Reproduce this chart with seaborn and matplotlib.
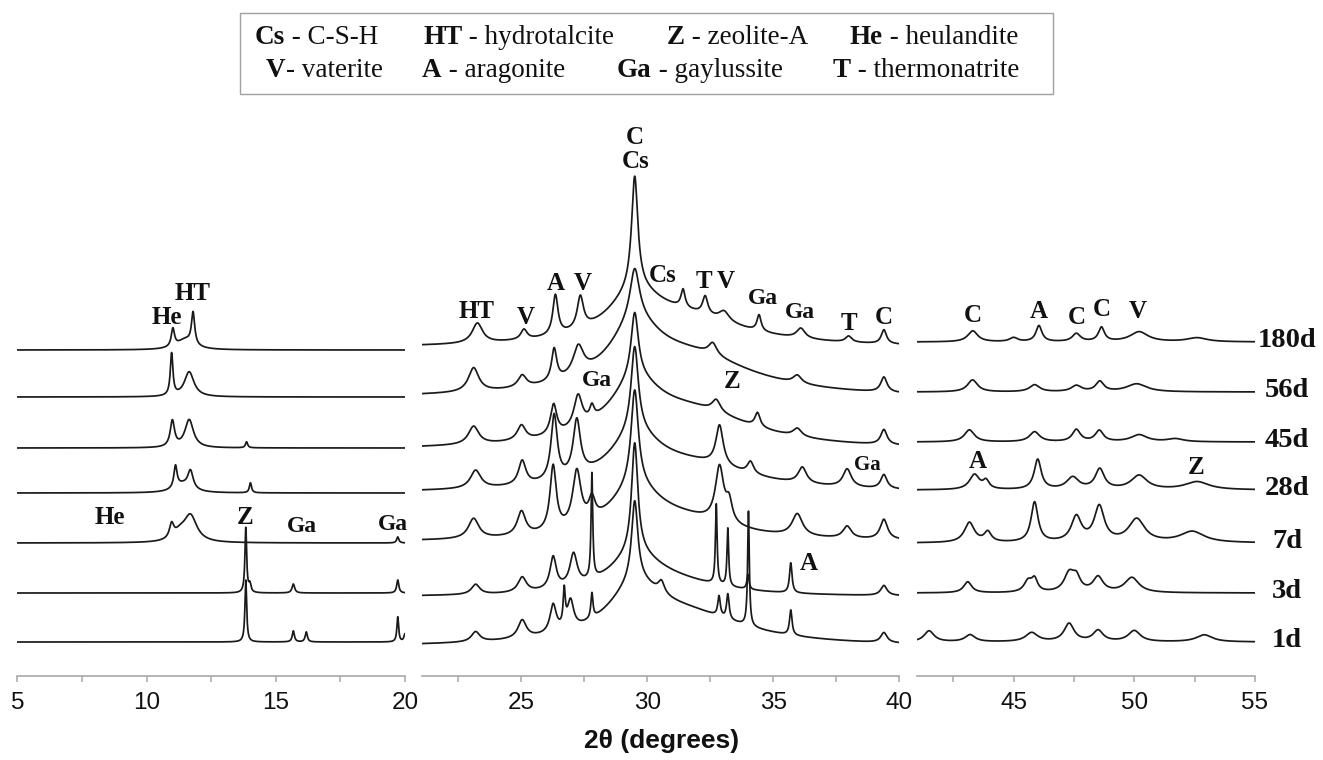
import numpy as np
import pandas as pd
import matplotlib
matplotlib.use("Agg")
import matplotlib.pyplot as plt
import seaborn as sns
from matplotlib.patches import Rectangle
from matplotlib.transforms import blended_transform_factory

# ---------------- data ----------------
SAMPLES = ["1d", "3d", "7d", "28d", "45d", "56d", "180d"]

# vertical offsets of each pattern (bottom to top), per panel
BASE_P1 = [0, 49, 99, 149, 194, 245, 292]
BASE_P2 = [-5, 45, 100, 149, 192, 244, 294]
BASE_P3 = [0, 49, 99, 152, 200, 250, 300]

# peaks: (2theta, height, fwhm)  -- panel 5-20 deg
P1_1D = [(13.84, 62, 0.08), (15.68, 11, 0.10), (16.18, 10, 0.10), (19.72, 25, 0.08), (20.0, 8, 0.10)]
P1_3D = [(13.84, 65, 0.08), (14.0, 8, 0.10), (15.68, 9, 0.12), (19.72, 13, 0.10)]
P1_7D = [(10.97, 14, 0.20), (11.7, 26, 0.60), (11.3, 8, 0.60), (19.72, 6, 0.10)]
P1_28D = [(11.12, 22, 0.15), (11.7, 18, 0.25), (11.4, 8, 0.80), (14.02, 10, 0.10)]
P1_45D = [(11.0, 26, 0.20), (11.65, 28, 0.40), (13.87, 6, 0.10)]
P1_56D = [(10.97, 42, 0.12), (11.65, 25, 0.45)]
P1_180D = [(11.02, 18, 0.15), (11.8, 32, 0.15), (11.5, 10, 0.80)]

# panel 21-40 deg (first two entries are the broad amorphous humps)
P2_1D = [(29.5, 45, 2.5), (31.5, 30, 6.0), (23.18, 10, 0.4), (25.03, 18, 0.4), (26.26, 28, 0.3),
         (26.7, 35, 0.1), (26.95, 28, 0.3), (27.8, 25, 0.1), (29.5, 80, 0.3), (30.56, 12, 0.3),
         (32.85, 20, 0.12), (33.2, 25, 0.12), (34.02, 115, 0.08), (35.7, 25, 0.12), (39.4, 10, 0.3)]
P2_3D = [(29.5, 35, 2.5), (31.0, 12, 5.0), (23.18, 10, 0.4), (25.03, 15, 0.4), (26.26, 32, 0.3),
         (27.07, 32, 0.35), (27.8, 105, 0.08), (29.5, 110, 0.3), (32.74, 80, 0.08), (33.2, 58, 0.08),
         (34.0, 15, 0.1), (35.7, 30, 0.12), (39.4, 10, 0.3)]
P2_7D = [(29.5, 45, 2.5), (31.5, 18, 5.0), (23.1, 20, 0.5), (25.0, 24, 0.4), (26.26, 65, 0.3),
         (27.2, 55, 0.4), (27.8, 20, 0.3), (29.5, 95, 0.35), (32.87, 55, 0.4), (33.25, 20, 0.3),
         (35.96, 22, 0.5), (37.94, 12, 0.4), (39.4, 20, 0.35)]
P2_28D = [(29.5, 45, 2.5), (31.8, 25, 6.0), (23.18, 18, 0.5), (25.03, 24, 0.35), (26.3, 65, 0.3),
          (27.2, 55, 0.35), (29.5, 85, 0.35), (32.87, 40, 0.35), (34.1, 12, 0.3), (36.16, 16, 0.4),
          (37.94, 18, 0.4), (39.4, 14, 0.3)]
P2_45D = [(29.5, 50, 2.5), (31.8, 35, 6.0), (23.1, 18, 0.5), (25.0, 15, 0.4), (26.28, 30, 0.3),
          (27.25, 32, 0.4), (27.8, 12, 0.2), (29.5, 65, 0.35), (32.74, 12, 0.4), (34.38, 14, 0.25),
          (35.96, 8, 0.4), (39.4, 15, 0.3)]
P2_56D = [(29.5, 55, 2.5), (31.8, 38, 6.0), (23.1, 24, 0.5), (25.03, 12, 0.4), (26.3, 32, 0.25),
          (27.26, 28, 0.5), (29.5, 50, 0.45), (32.6, 12, 0.4), (35.96, 8, 0.4), (39.4, 15, 0.3)]
P2_180D = [(29.5, 40, 2.5), (31.5, 28, 6.0), (23.25, 20, 0.5), (25.1, 10, 0.3), (26.35, 40, 0.25),
           (27.34, 32, 0.3), (29.5, 112, 0.3), (31.42, 18, 0.2), (32.3, 18, 0.25), (33.05, 10, 0.5),
           (34.44, 16, 0.2), (36.1, 10, 0.4), (38.0, 6, 0.3), (39.4, 14, 0.25)]

# panel 41-55 deg
P3_1D = [(41.5, 11, 0.5), (43.2, 7, 0.5), (45.75, 9, 0.6), (47.3, 18, 0.5), (48.5, 11, 0.5), (50.0, 11, 0.6), (52.9, 7, 0.8)]
P3_3D = [(43.1, 11, 0.4), (45.6, 11, 0.4), (45.87, 12, 0.3), (47.3, 18, 0.5), (47.6, 13, 0.4), (48.5, 15, 0.5), (49.9, 15, 0.7)]
P3_7D = [(43.17, 20, 0.5), (43.93, 10, 0.35), (45.87, 40, 0.35), (47.6, 25, 0.5), (48.55, 35, 0.5), (50.1, 23, 0.8), (52.4, 11, 1.2)]
P3_28D = [(43.38, 15, 0.5), (43.86, 8, 0.3), (46.0, 30, 0.35), (47.45, 12, 0.6), (48.57, 20, 0.45), (50.2, 14, 0.8), (52.6, 8, 1.2)]
P3_45D = [(43.17, 12, 0.5), (45.87, 10, 0.5), (47.6, 12, 0.4), (48.55, 11, 0.4), (50.2, 7, 0.8), (51.7, 3, 0.8)]
P3_56D = [(43.3, 12, 0.5), (45.87, 7, 0.5), (47.6, 6, 0.5), (48.57, 10, 0.4), (50.1, 8, 1.0)]
P3_180D = [(43.31, 11, 0.5), (45.0, 4, 0.4), (46.05, 16, 0.3), (47.6, 8, 0.4), (48.64, 14, 0.3), (50.2, 10, 0.9), (52.6, 4, 1.0)]

# phase labels: (text, 2theta, height on the stacked scale)
LAB_P1 = [("He", 10.79, 325), ("HT", 11.8, 349), ("He", 8.58, 124), ("Z", 13.8, 124),
          ("Ga", 16.0, 116), ("Ga", 19.52, 117)]
LAB_P2 = [("HT", 23.23, 330), ("V", 25.16, 325), ("A", 26.37, 359), ("V", 27.43, 358),
          ("C", 29.52, 505), ("Cs", 29.52, 480), ("Cs", 30.59, 366), ("T", 32.25, 361),
          ("V", 33.13, 360), ("Ga", 34.58, 344), ("Ga", 36.07, 330), ("T", 38.01, 318),
          ("C", 39.41, 325), ("Ga", 27.99, 262), ("Z", 33.36, 260), ("Ga", 38.73, 177),
          ("A", 36.43, 79)]
LAB_P3 = [("C", 43.31, 327), ("A", 46.05, 330), ("C", 47.63, 324), ("C", 48.64, 332),
          ("V", 50.16, 330), ("A", 43.52, 181), ("Z", 52.58, 175)]

LEGEND_ROW1 = [("Cs", " - C-S-H"), ("HT", " - hydrotalcite"), ("Z", " - zeolite-A"), ("He", " - heulandite")]
LEGEND_ROW2 = [("V", "- vaterite"), ("A", " - aragonite"), ("Ga", " - gaylussite"), ("T", " - thermonatrite")]

X_TICKS_P1 = [5, 10, 15, 20]
X_TICKS_P2 = [25, 30, 35, 40]
X_TICKS_P3 = [45, 50, 55]

# ---------------- build the patterns ----------------
def pattern(x, peaks, base):
    y = np.full_like(x, float(base))
    for c, h, w in peaks:
        y += h / (1.0 + ((x - c) / (w / 2.0)) ** 2)
    return y


def panel_frame(xmin, xmax, peak_lists, bases):
    x = np.arange(xmin, xmax + 1e-9, 0.004)
    frames = []
    for s, pk, b in zip(SAMPLES, peak_lists, bases):
        frames.append(pd.DataFrame({"two_theta": x, "intensity": pattern(x, pk, b), "sample": s}))
    return pd.concat(frames, ignore_index=True)


df1 = panel_frame(5.0, 20.0, [P1_1D, P1_3D, P1_7D, P1_28D, P1_45D, P1_56D, P1_180D], BASE_P1)
df2 = panel_frame(21.05, 40.0, [P2_1D, P2_3D, P2_7D, P2_28D, P2_45D, P2_56D, P2_180D], BASE_P2)
df3 = panel_frame(41.0, 55.0, [P3_1D, P3_3D, P3_7D, P3_28D, P3_45D, P3_56D, P3_180D], BASE_P3)

# ---------------- figure ----------------
sns.set_theme(style="white")
plt.rcParams["font.family"] = ["Liberation Sans", "DejaVu Sans"]

W, H = 1323, 760
fig = plt.figure(figsize=(W / 100, H / 100), dpi=100)

bottom = 1 - 676 / H
height = (676 - 100) / H
ax1 = fig.add_axes([17.3 / W, bottom, (405 - 17.3) / W, height])
ax2 = fig.add_axes([422 / W, bottom, (899 - 422) / W, height])
ax3 = fig.add_axes([917 / W, bottom, (1255 - 917) / W, height])

LINE = "#1a1a1a"
AXC = "#a8a8a8"
serif = "Liberation Serif"

for ax, df, lims, ticks, minors in [
    (ax1, df1, (5, 20), X_TICKS_P1, [7.5, 12.5, 17.5]),
    (ax2, df2, (21.05, 40), X_TICKS_P2, [22.5, 27.5, 32.5, 37.5]),
    (ax3, df3, (41, 55), X_TICKS_P3, [42.5, 47.5, 52.5]),
]:
    sns.lineplot(data=df, x="two_theta", y="intensity", hue="sample",
                 palette=[LINE] * len(SAMPLES), estimator=None, legend=False,
                 linewidth=1.25, ax=ax)
    ax.set_xlim(*lims)
    ax.set_ylim(-34, 542)
    ax.set_xlabel("")
    ax.set_ylabel("")
    ax.set_yticks([])
    ax.set_xticks(ticks)
    ax.set_xticklabels([str(t) for t in ticks])
    ax.set_xticks(minors, minor=True)
    for sp in ["top", "left", "right"]:
        ax.spines[sp].set_visible(False)
    ax.spines["bottom"].set_color(AXC)
    ax.spines["bottom"].set_linewidth(1.2)
    ax.tick_params(axis="x", which="both", direction="out", length=4.5, width=1.1,
                   color=AXC, bottom=True, labelsize=17.5, labelcolor="#111111", pad=7)
    ax.tick_params(axis="x", which="minor", labelbottom=False)
    ax.patch.set_alpha(0)

for ax, labs in [(ax1, LAB_P1), (ax2, LAB_P2), (ax3, LAB_P3)]:
    for txt, xv, yv in labs:
        size = 18
        if txt == "Ga":
            size = 17
        if txt == "Ga" and yv < 200 and ax is ax2:
            size = 15
        ax.text(xv, yv, txt, ha="center", va="center", fontsize=size,
                fontweight="bold", family=serif, color="#111111", clip_on=False)

# sample labels at the right
tr = blended_transform_factory(fig.transFigure, ax3.transData)
for s, b in zip(SAMPLES, BASE_P3):
    fig.text(1287 / W, b - 5, s, transform=tr, ha="center", va="baseline",
             fontsize=20.5, fontweight="bold", family=serif, color="#111111")

# x axis title
fig.text(662 / W, 1 - 741 / H, "2\u03b8 (degrees)", ha="center", va="center",
         fontsize=19, fontweight="bold", color="#111111")

# legend box
fig.patches.append(Rectangle((240 / W, 1 - 94 / H), (1053 - 240) / W, (94 - 13) / H,
                             transform=fig.transFigure, fill=False,
                             edgecolor="#a0a0a0", linewidth=1.0))
renderer = fig.canvas.get_renderer()
row_x1 = [255, 423, 667, 850]
row_x2 = [266, 422, 617, 833]
for row, xs, base_y in [(LEGEND_ROW1, row_x1, 44), (LEGEND_ROW2, row_x2, 77)]:
    for (sym, desc), xp in zip(row, xs):
        t = fig.text(xp / W, 1 - base_y / H, sym, ha="left", va="baseline",
                     fontsize=19.5, fontweight="bold", family=serif, color="#111111")
        bb = t.get_window_extent(renderer)
        fig.text(bb.x1 / W, 1 - base_y / H, desc, ha="left", va="baseline",
                 fontsize=19.5, family=serif, color="#111111")

fig.savefig("out.png", dpi=100)
